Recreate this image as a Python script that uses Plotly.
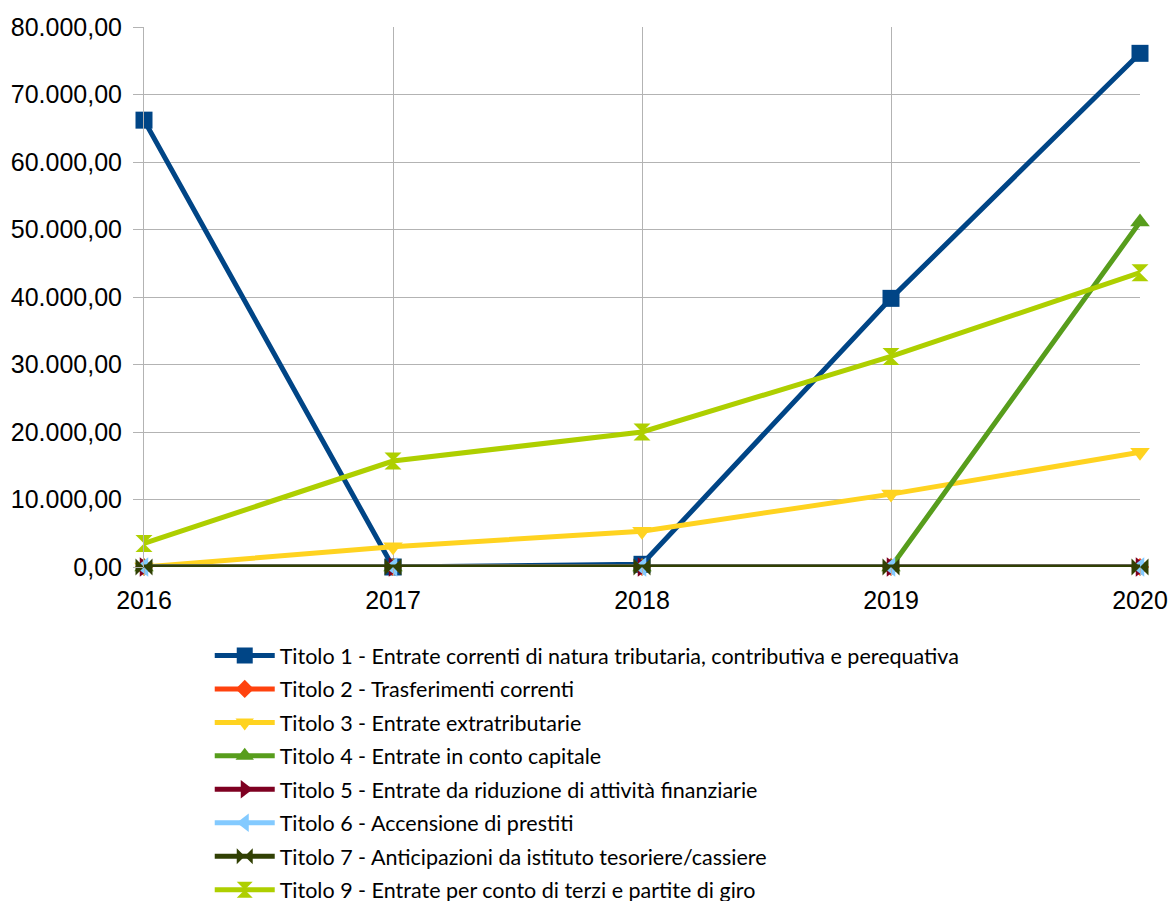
import plotly.graph_objects as go

years = [2016, 2017, 2018, 2019, 2020]
names = [
    "Titolo 1 - Entrate correnti di natura tributaria, contributiva e perequativa",
    "Titolo 2 - Trasferimenti correnti",
    "Titolo 3 - Entrate extratributarie",
    "Titolo 4 - Entrate in conto capitale",
    "Titolo 5 - Entrate da riduzione di attività finanziarie",
    "Titolo 6 - Accensione di prestiti",
    "Titolo 7 - Anticipazioni da istituto tesoriere/cassiere",
    "Titolo 9 - Entrate per conto di terzi e partite di giro",
]
titolo1 = [66200, 0, 400, 39800, 76100]
titolo2 = [0, 0, 0, 0, 0]
titolo3 = [0, 3000, 5300, 10800, 17000]
titolo4 = [0, 0, 0, 0, 51100]
titolo5 = [0, 0, 0, 0, 0]
titolo6 = [0, 0, 0, 0, 0]
titolo7 = [0, 0, 0, 0, 0]
titolo9 = [3500, 15700, 20000, 31200, 43600]
series = [titolo1, titolo2, titolo3, titolo4, titolo5, titolo6, titolo7, titolo9]
colors = ["#004586", "#ff420e", "#ffd320", "#579d1c", "#7e0021", "#83caff", "#314004", "#aecf00"]
symbols = ["square", "diamond", "triangle-down", "triangle-up", "triangle-right",
           "triangle-left", "bowtie", "hourglass"]
sizes = [17, 14, 17, 17, 17, 17, 17, 17]

fig = go.Figure()
for i, (n, v, c, s, sz) in enumerate(zip(names, series, colors, symbols, sizes)):
    fig.add_trace(go.Scatter(
        x=years, y=v, name=n, mode="lines+markers",
        line=dict(color=c, width=5),
        marker=dict(symbol=s, size=sz, color=c),
        cliponaxis=False, legendgroup="g%d" % i,
    ))

fig.update_layout(
    width=1168, height=901,
    margin=dict(l=144, r=28, t=27, b=334, autoexpand=False),
    plot_bgcolor="white", paper_bgcolor="white",
    separators=",.",
    showlegend=True,
    legend=dict(
        x=0.066, y=-0.126, xanchor="left", yanchor="top",
        font=dict(family="Lato, Noto Sans, sans-serif", size=21.5, color="#000000"),
        tracegroupgap=2.5, itemwidth=60, traceorder="grouped",
    ),
)
fig.update_xaxes(
    range=[2016, 2020], tickvals=years, ticktext=[str(y) for y in years],
    showgrid=True, gridcolor="#b3b3b3", gridwidth=1,
    showline=False, zeroline=False, automargin=False,
    ticks="outside", ticklen=8, tickcolor="#b3b3b3", ticklabelstandoff=3,
    tickfont=dict(family="Liberation Sans, Arial, sans-serif", size=25, color="#000000"),
)
fig.update_yaxes(
    range=[0, 80000], dtick=10000, tickformat=",.2f",
    showgrid=True, gridcolor="#b3b3b3", gridwidth=1,
    showline=True, linecolor="#b3b3b3", linewidth=1,
    zeroline=False, automargin=False,
    ticks="outside", ticklen=10, tickcolor="#b3b3b3", ticklabelstandoff=6,
    tickfont=dict(family="Liberation Sans, Arial, sans-serif", size=25, color="#000000"),
)

fig.write_html(
    "out.html",
    config={"displayModeBar": False},
    post_script="document.body.style.margin='0';document.body.style.overflow='hidden';",
)
